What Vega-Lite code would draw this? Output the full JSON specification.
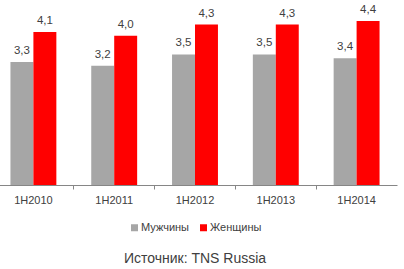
{
  "$schema": "https://vega.github.io/schema/vega-lite/v6.json",
  "autosize": "none",
  "width": 404,
  "height": 185,
  "padding": {"left": -7, "top": 0, "right": 7, "bottom": 84},
  "background": "white",
  "config": {
    "view": {"stroke": null},
    "font": "Liberation Sans",
    "locale": {"number": {"decimal": ",", "thousands": " ", "grouping": [3], "currency": ["", ""]}},
    "legend": {"layout": {"bottom": {"anchor": "middle"}}}
  },
  "title": {
    "text": "Источник: TNS Russia",
    "orient": "bottom",
    "anchor": "middle",
    "fontSize": 14,
    "fontWeight": "normal",
    "color": "#404040",
    "font": "Liberation Sans",
    "offset": 19
  },
  "data": {
    "values": [
      {"period": "1H2010", "sex": "Мужчины", "value": 3.3},
      {"period": "1H2010", "sex": "Женщины", "value": 4.1},
      {"period": "1H2011", "sex": "Мужчины", "value": 3.2},
      {"period": "1H2011", "sex": "Женщины", "value": 4.0},
      {"period": "1H2012", "sex": "Мужчины", "value": 3.5},
      {"period": "1H2012", "sex": "Женщины", "value": 4.3},
      {"period": "1H2013", "sex": "Мужчины", "value": 3.5},
      {"period": "1H2013", "sex": "Женщины", "value": 4.3},
      {"period": "1H2014", "sex": "Мужчины", "value": 3.4},
      {"period": "1H2014", "sex": "Женщины", "value": 4.4}
    ]
  },
  "encoding": {
    "x": {
      "field": "period",
      "type": "nominal",
      "scale": {"paddingInner": 0, "paddingOuter": 0},
      "axis": {
        "title": null,
        "labelAngle": 0,
        "labelFont": "Liberation Sans",
        "labelFontSize": 11,
        "labelColor": "#404040",
        "labelPadding": 5,
        "domainColor": "#868686",
        "tickColor": "#868686",
        "tickSize": 4,
        "bandPosition": 0,
        "labelBound": false
      }
    },
    "xOffset": {
      "field": "sex",
      "type": "nominal",
      "sort": ["Мужчины", "Женщины"],
      "scale": {"paddingInner": 0, "paddingOuter": 0.76}
    },
    "y": {
      "field": "value",
      "type": "quantitative",
      "scale": {"domain": [0, 4.96], "nice": false},
      "axis": null
    }
  },
  "layer": [
    {
      "mark": {"type": "bar"},
      "encoding": {
        "color": {
          "field": "sex",
          "type": "nominal",
          "sort": ["Мужчины", "Женщины"],
          "scale": {"domain": ["Мужчины", "Женщины"], "range": ["#A6A6A6", "#FF0000"]},
          "legend": {
            "title": null,
            "orient": "bottom",
            "direction": "horizontal",
            "symbolType": "square",
            "symbolSize": 49,
            "symbolStrokeWidth": 0,
            "labelFont": "Liberation Sans",
            "labelFontSize": 11,
            "labelColor": "#404040",
            "labelOffset": 1,
            "columnPadding": 8,
            "offset": 17
          }
        }
      }
    },
    {
      "mark": {
        "type": "text",
        "baseline": "bottom",
        "dy": -6,
        "font": "Liberation Sans",
        "fontSize": 11.5,
        "color": "#404040"
      },
      "encoding": {
        "text": {"field": "value", "type": "quantitative", "format": ".1f", "formatType": "number"}
      }
    }
  ]
}
